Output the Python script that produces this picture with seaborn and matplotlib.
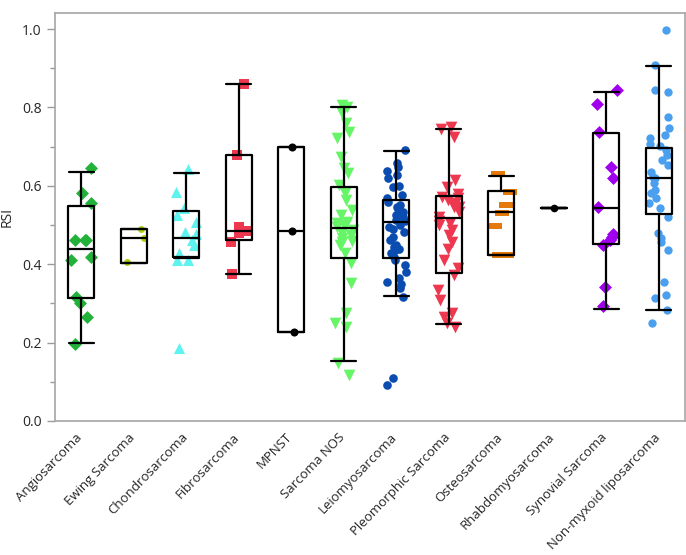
import numpy as np
import pandas as pd
import matplotlib
matplotlib.use("Agg")
import matplotlib.pyplot as plt
import matplotlib.transforms as mtransforms
import seaborn as sns
from matplotlib.path import Path

categories = ["Angiosarcoma", "Ewing Sarcoma", "Chondrosarcoma", "Fibrosarcoma", "MPNST",
              "Sarcoma NOS", "Leiomyosarcoma", "Pleomorphic Sarcoma", "Osteosarcoma",
              "Rhabdomyosarcoma", "Synovial Sarcoma", "Non-myxoid liposarcoma"]

angiosarcoma = [0.645, 0.582, 0.555, 0.462, 0.462, 0.461, 0.419, 0.41, 0.317, 0.30, 0.266, 0.196]
ewing = [0.489, 0.468, 0.406]
chondrosarcoma = [0.642, 0.585, 0.543, 0.526, 0.508, 0.483, 0.477, 0.462, 0.449, 0.428, 0.411, 0.411, 0.185]
fibrosarcoma = [0.861, 0.679, 0.494, 0.485, 0.48, 0.457, 0.375]
mpnst = [0.70, 0.484, 0.226]
sarcoma_nos = [0.806, 0.80, 0.785, 0.76, 0.737, 0.722, 0.674, 0.645, 0.633, 0.602, 0.582, 0.564,
               0.538, 0.525, 0.508, 0.505, 0.50, 0.495, 0.487, 0.48, 0.474, 0.467, 0.46, 0.457,
               0.449, 0.428, 0.403, 0.352, 0.275, 0.25, 0.24, 0.148, 0.117]
leiomyosarcoma = [0.691, 0.659, 0.649, 0.638, 0.628, 0.62, 0.60, 0.598, 0.577, 0.57, 0.559, 0.55,
                  0.547, 0.54, 0.534, 0.526, 0.52, 0.513, 0.51, 0.50, 0.496, 0.49, 0.483, 0.47,
                  0.462, 0.449, 0.445, 0.44, 0.436, 0.428, 0.419, 0.41, 0.398, 0.381, 0.364,
                  0.355, 0.35, 0.339, 0.317, 0.11, 0.093]
pleomorphic = [0.751, 0.745, 0.725, 0.615, 0.598, 0.58, 0.572, 0.57, 0.564, 0.556, 0.547, 0.545,
               0.534, 0.521, 0.51, 0.504, 0.50, 0.487, 0.474, 0.457, 0.44, 0.411, 0.39, 0.372,
               0.334, 0.309, 0.275, 0.266, 0.249, 0.24]
osteosarcoma = [0.63, 0.585, 0.551, 0.53, 0.497, 0.423, 0.423]
rhabdomyosarcoma = [0.544]
synovial = [0.844, 0.809, 0.738, 0.647, 0.619, 0.547, 0.477, 0.47, 0.462, 0.449, 0.343, 0.293]
non_myxoid = [0.997, 0.908, 0.844, 0.84, 0.776, 0.747, 0.73, 0.721, 0.708, 0.702, 0.691, 0.679,
              0.666, 0.653, 0.636, 0.623, 0.619, 0.606, 0.589, 0.581, 0.568, 0.555, 0.543, 0.521,
              0.479, 0.466, 0.457, 0.436, 0.355, 0.321, 0.313, 0.283, 0.249]

# box summary values: (whisker low, Q1, median, Q3, whisker high)
box_whislo = [0.200, 0.404, 0.415, 0.375, 0.226, 0.154, 0.320, 0.247, 0.423, 0.544, 0.286, 0.283]
box_q1     = [0.313, 0.404, 0.419, 0.462, 0.226, 0.415, 0.415, 0.378, 0.423, 0.544, 0.451, 0.528]
box_median = [0.438, 0.468, 0.468, 0.485, 0.484, 0.492, 0.508, 0.517, 0.533, 0.544, 0.544, 0.619]
box_q3     = [0.549, 0.490, 0.537, 0.679, 0.700, 0.596, 0.564, 0.574, 0.587, 0.544, 0.735, 0.696]
box_whishi = [0.636, 0.490, 0.632, 0.861, 0.700, 0.802, 0.689, 0.745, 0.626, 0.544, 0.840, 0.906]

values = [angiosarcoma, ewing, chondrosarcoma, fibrosarcoma, mpnst, sarcoma_nos, leiomyosarcoma,
          pleomorphic, osteosarcoma, rhabdomyosarcoma, synovial, non_myxoid]

colors = ["#22b23a", "#a8d40a", "#5ff3f0", "#ee3850", "#000000", "#66f566", "#0a4cb0",
          "#ee3850", "#e5790a", "#000000", "#a000ee", "#4a9fee"]
bar_marker = Path([(-1, -0.4), (1, -0.4), (1, 0.4), (-1, 0.4), (-1, -0.4)],
                  [Path.MOVETO, Path.LINETO, Path.LINETO, Path.LINETO, Path.CLOSEPOLY])
markers = ["D", "o", "^", "s", "o", "v", "o", "v", bar_marker, "o", "D", "o"]
sizes = [6.6, 5.0, 8.0, 7.5, 5.8, 8.4, 6.2, 8.4, 10.5, 5.5, 6.6, 6.0]

df = pd.DataFrame({"Histology": [c for c, v in zip(categories, values) for _ in v],
                   "RSI": [x for v in values for x in v]})

sns.set_style("white")
plt.rcParams["font.family"] = ["Open Sans", "DejaVu Sans"]

fig = plt.figure(figsize=(6.86, 5.55), dpi=100)
ax = fig.add_axes([55 / 686, 1 - 421 / 555, 630 / 686, 408 / 555])

np.random.seed(4)
for c, col, m, s in zip(categories, colors, markers, sizes):
    sub = df[df["Histology"] == c]
    sns.stripplot(data=sub, x="Histology", y="RSI", order=categories, color=col,
                  marker=m, size=s, jitter=0.2, linewidth=0, ax=ax, zorder=2)

stats = [dict(whislo=a, q1=b, med=m, q3=d, whishi=e, fliers=[])
         for a, b, m, d, e in zip(box_whislo, box_q1, box_median, box_q3, box_whishi)]
lp = dict(color="black", linewidth=1.6)
ax.bxp(stats, positions=range(len(categories)), widths=0.5, capwidths=0.48,
       showfliers=False, boxprops=lp, whiskerprops=lp, capprops=lp, medianprops=lp,
       manage_ticks=False, zorder=3)

ax.set_xlim(-0.5, len(categories) - 0.5)
ax.set_ylim(0, 1.041)
ax.set_yticks(np.arange(0, 1.01, 0.2))
ax.set_yticklabels([f"{t:.1f}" for t in np.arange(0, 1.01, 0.2)], fontsize=10)
ax.set_yticks(np.arange(0.1, 1.0, 0.2), minor=True)
ax.tick_params(axis="y", which="major", length=6, width=1.0, color="#9a9a9a", left=True)
ax.tick_params(axis="y", which="minor", length=3.5, width=1.0, color="#9a9a9a", left=True)
ax.set_xticks(range(len(categories)))
ax.set_xticklabels(categories, rotation=46, ha="right", va="top",
                   rotation_mode="anchor", fontsize=9.5)
ax.tick_params(axis="x", length=0, pad=7)
shift = mtransforms.ScaledTranslation(-4 / 72, 0, fig.dpi_scale_trans)
for lab in ax.get_xticklabels():
    lab.set_transform(lab.get_transform() + shift)
ax.set_xlabel("")
ax.set_ylabel("RSI", fontsize=10)
ax.yaxis.set_label_coords(-40 / 630, 0.5)
for sp in ax.spines.values():
    sp.set_color("#a6a6a6")
    sp.set_linewidth(1.2)

fig.savefig("out.png", dpi=100)
